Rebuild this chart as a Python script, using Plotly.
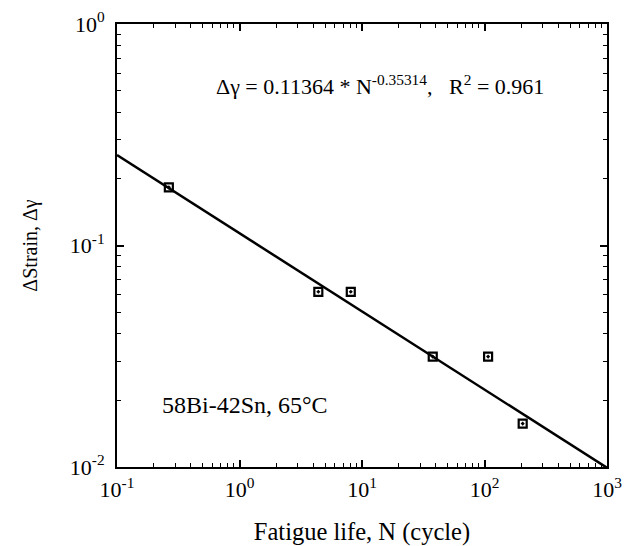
import plotly.graph_objects as go

# data
cycles = [0.265, 4.4, 8.1, 37.8, 107, 205]
strain = [0.183, 0.0618, 0.0618, 0.0315, 0.0315, 0.0157]
fit_x = [0.1, 1000]
fit_y = [0.256, 0.00992]
x_tickvals = [0.1, 1, 10, 100, 1000]
x_ticktext = ["10<sup>-1</sup>", "10<sup>0</sup>", "10<sup>1</sup>", "10<sup>2</sup>", "10<sup>3</sup>"]
y_tickvals = [0.01, 0.1, 1]
y_ticktext = ["10<sup>-2</sup>", "10<sup>-1</sup>", "10<sup>0</sup>"]

x_minor = [m * d for d in x_tickvals[:-1] for m in range(2, 10)]
y_minor = [m * d for d in y_tickvals[:-1] for m in range(2, 10)]

FONT = "Times New Roman, Liberation Serif, serif"

fig = go.Figure()
fig.add_trace(go.Scatter(x=fit_x, y=fit_y, mode="lines",
                         line=dict(color="black", width=2.5), showlegend=False))
fig.add_trace(go.Scatter(x=cycles, y=strain, mode="markers",
                         marker=dict(symbol="square-open-dot", size=8, color="black",
                                     line=dict(color="black", width=2.2)),
                         showlegend=False))

axis_common = dict(
    type="log", showgrid=False, zeroline=False, showline=True, linecolor="black",
    linewidth=2, mirror="allticks", ticks="inside", ticklen=7, tickwidth=1.5,
    tickcolor="black", tickfont=dict(family=FONT, size=22, color="black"),
    automargin=False,
)

fig.update_xaxes(range=[-1, 3], tickvals=x_tickvals, ticktext=x_ticktext,
                 minor=dict(tickvals=x_minor, ticks="inside", ticklen=4, tickwidth=1.2,
                            tickcolor="black", showgrid=False),
                 title=dict(text="Fatigue life, N (cycle)", font=dict(family=FONT, size=24.5, color="black"),
                            standoff=22),
                 ticklabelstandoff=2,
                 **axis_common)
fig.update_yaxes(range=[-2, 0], tickvals=y_tickvals, ticktext=y_ticktext,
                 minor=dict(tickvals=y_minor, ticks="inside", ticklen=4, tickwidth=1.2,
                            tickcolor="black", showgrid=False),
                 title=dict(text="ΔStrain, Δγ", font=dict(family=FONT, size=20, color="black"),
                            standoff=27),
                 ticklabelstandoff=6,
                 **axis_common)

fig.add_annotation(xref="paper", yref="paper", x=0.537, y=0.862, xanchor="center", yanchor="middle",
                   text="Δγ = 0.11364 * N<sup>-0.35314</sup>,   R<sup>2</sup> = 0.961",
                   showarrow=False, font=dict(family=FONT, size=22, color="black"))
fig.add_annotation(xref="paper", yref="paper", x=0.088, y=0.14, xanchor="left", yanchor="middle",
                   text="58Bi-42Sn, 65°C",
                   showarrow=False, font=dict(family=FONT, size=24, color="black"))

fig.update_layout(width=641, height=546, plot_bgcolor="white", paper_bgcolor="white",
                  font=dict(family=FONT, size=18, color="black"),
                  margin=dict(l=117, r=34, t=24, b=79))

fig.write_html("out.html")
